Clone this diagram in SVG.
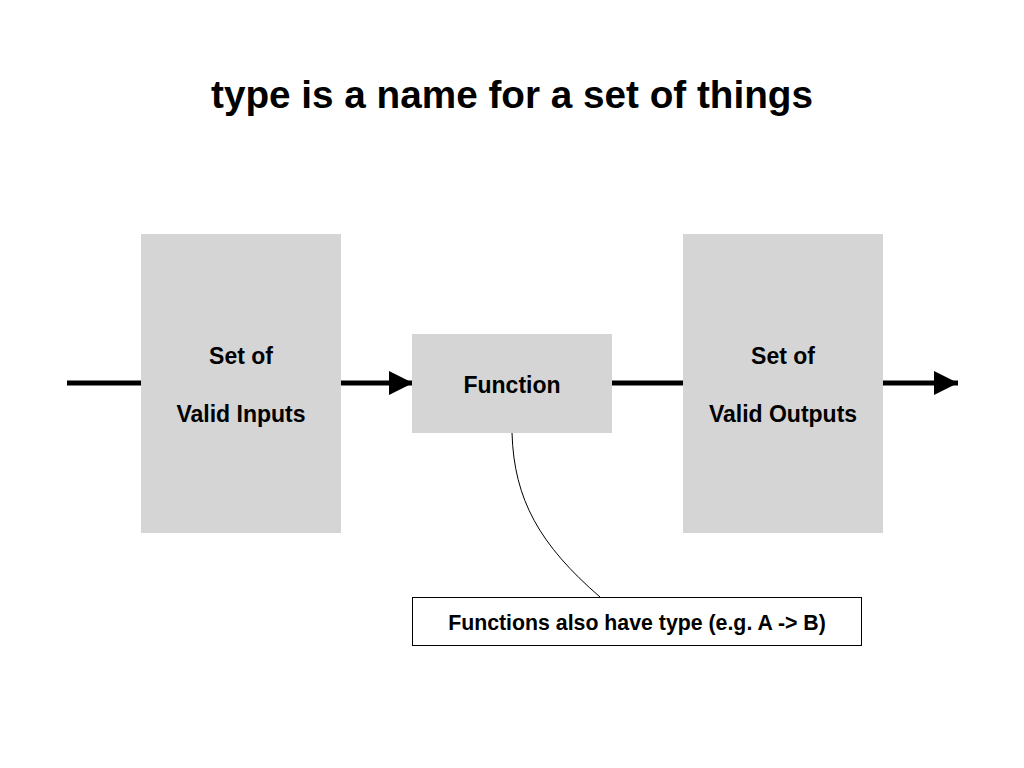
<svg xmlns="http://www.w3.org/2000/svg" width="1024" height="768" viewBox="0 0 1024 768">
<style>
.box{fill:#d5d5d5}
.lbl{font-family:"Liberation Sans",Arial,sans-serif;font-weight:bold;font-size:23px;fill:#000;text-anchor:middle}
.title{font-family:"Liberation Sans",Arial,sans-serif;font-weight:bold;font-size:38.7px;fill:#000;text-anchor:middle}
.note{font-family:"Liberation Sans",Arial,sans-serif;font-weight:bold;font-size:21.3px;fill:#000;text-anchor:middle}
.flow{stroke:#000;stroke-width:5;fill:none}
</style>
<defs>
<marker id="ah" markerUnits="userSpaceOnUse" markerWidth="24" markerHeight="24" refX="24" refY="12" orient="auto">
<path d="M0,0 L24,12 L0,24 Z" fill="#000"/>
</marker>
</defs>
<rect width="1024" height="768" fill="#fff"/>
<text class="title" x="512" y="108">type is a name for a set of things</text>
<g id="connectors">
<line class="flow" x1="67" y1="383" x2="141" y2="383"/>
<line class="flow" x1="341" y1="383" x2="413" y2="383" marker-end="url(#ah)"/>
<line class="flow" x1="612" y1="383" x2="683" y2="383"/>
<line class="flow" x1="883" y1="383" x2="958" y2="383" marker-end="url(#ah)"/>
<path d="M512,433 C514,500 540,545 600,597" stroke="#000" stroke-width="1" fill="none"/>
</g>
<g id="inputs">
<rect class="box" x="141" y="234" width="200" height="299"/>
<text class="lbl" x="241" y="364">Set of</text>
<text class="lbl" x="241" y="422">Valid Inputs</text>
</g>
<g id="function">
<rect class="box" x="412" y="334" width="200" height="99"/>
<text class="lbl" x="512" y="393">Function</text>
</g>
<g id="outputs">
<rect class="box" x="683" y="234" width="200" height="299"/>
<text class="lbl" x="783" y="364">Set of</text>
<text class="lbl" x="783" y="422">Valid Outputs</text>
</g>
<g id="note">
<rect x="412.5" y="597.5" width="449" height="48" fill="#fff" stroke="#000" stroke-width="1"/>
<text class="note" x="637" y="630">Functions also have type (e.g. A -&gt; B)</text>
</g>
</svg>
